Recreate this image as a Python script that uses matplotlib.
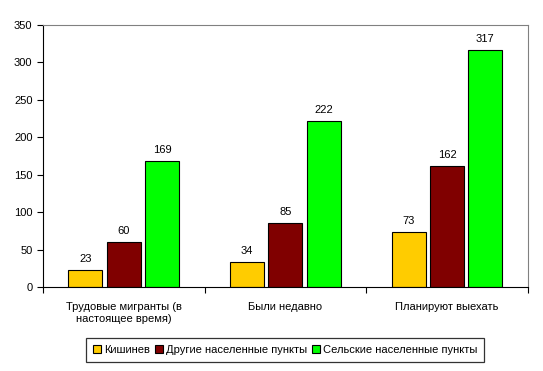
import numpy as np
import matplotlib.pyplot as plt

plt.rcParams["font.family"] = ["Liberation Sans", "DejaVu Sans"]

categories = ["Трудовые мигранты (в\nнастоящее время)", "Были недавно", "Планируют выехать"]
series_names = ["Кишинев", "Другие населенные пункты", "Сельские населенные пункты"]
kishinev = [23, 34, 73]
other_towns = [60, 85, 162]
rural = [169, 222, 317]
colors = ["#FFCC00", "#800000", "#00FF00"]


def main():
    fig = plt.figure(figsize=(5.43, 3.71), dpi=100)
    ax = fig.add_axes([0.079, 0.226, 0.893, 0.707])

    x = np.arange(len(categories))
    width = 0.21
    step = 0.237
    for i, (vals, name, col) in enumerate(zip([kishinev, other_towns, rural], series_names, colors)):
        pos = x + (i - 1) * step
        bars = ax.bar(pos, vals, width, color=col, edgecolor="black", linewidth=0.8, label=name)
        for b, v in zip(bars, vals):
            ax.text(b.get_x() + b.get_width() / 2, v + 8, str(v), ha="center", va="bottom", fontsize=8)

    ax.set_xlim(-0.5, len(categories) - 0.5)
    ax.set_ylim(0, 350)
    ax.set_yticks(range(0, 351, 50))
    ax.set_xticks(x)
    ax.set_xticklabels(categories, fontsize=8)
    ax.set_xticks(np.arange(-0.5, len(categories)), minor=True)
    ax.tick_params(axis="x", which="major", length=0, pad=11)
    ax.tick_params(axis="x", which="minor", length=4, direction="out", width=0.8)
    ax.tick_params(axis="y", length=4, direction="out", width=0.8, labelsize=8)

    for side in ["top", "right"]:
        ax.spines[side].set_color("#808080")
    for side in ["left", "bottom"]:
        ax.spines[side].set_color("black")

    leg = ax.legend(loc="upper center", bbox_to_anchor=(0.5, -0.195), ncol=3, fontsize=8,
                    frameon=True, fancybox=False, edgecolor="black", handlelength=0.7,
                    handleheight=0.7, handletextpad=0.3, columnspacing=0.45, borderpad=0.6,
                    borderaxespad=0)
    leg.get_frame().set_linewidth(0.9)

    fig.savefig("out.png", dpi=100)


if __name__ == "__main__":
    main()
